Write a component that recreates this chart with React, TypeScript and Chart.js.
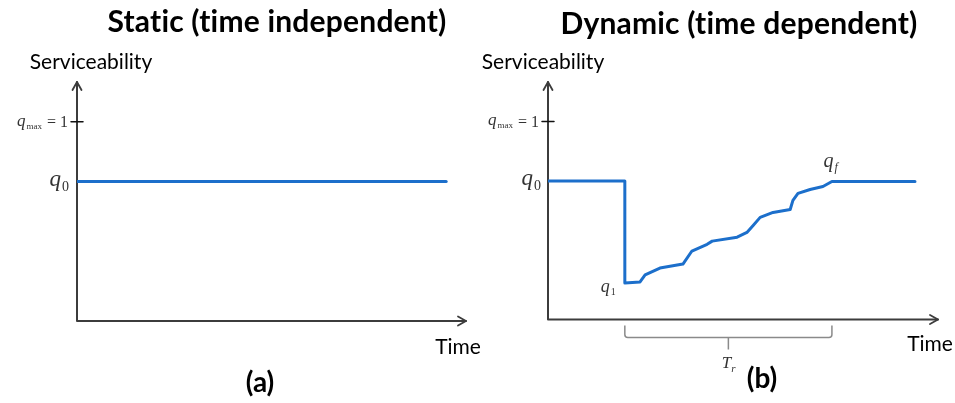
import React, { useEffect, useRef } from "react";
import { Chart, registerables } from "chart.js";

Chart.register(...registerables);

// ---- data ----
const staticTime = [0, 9.49];
const staticServ = [0.7, 0.7];

const dynamicTime = [0, 1.97, 1.97, 2.36, 2.49, 2.87, 3.46, 3.69, 4.08, 4.21, 4.85, 5.1, 5.26, 5.44, 5.77, 6.21, 6.28, 6.41, 6.72, 7.05, 7.28, 9.41];
const dynamicServ = [0.7, 0.7, 0.185, 0.19, 0.225, 0.26, 0.28, 0.346, 0.38, 0.396, 0.416, 0.44, 0.475, 0.516, 0.541, 0.556, 0.602, 0.637, 0.657, 0.672, 0.697, 0.697];

const Q_MAX = 1;
const Q_0 = 0.7;
const X_MAX = 10;
const Y_MAX = 1.2;
const RECOVERY_START = 1.97;
const RECOVERY_END = 7.28;
const Q1_VALUE = 0.185;
const QF_VALUE = 0.697;

const titles = ["Static (time independent)", "Dynamic (time dependent)"];
const panelLabels = ["(a)", "(b)"];
const yAxisLabel = "Serviceability";
const xAxisLabel = "Time";

// ---- styles ----
const LINE_COLOR = "#1c6fcb";
const AXIS_COLOR = "#3c3c3c";
const SANS = "Lato, 'Open Sans', sans-serif";
const SERIF = "'Liberation Serif', 'DejaVu Serif', serif";

type PanelCfg = {
  left: number;
  width: number;
  padding: { left: number; right: number; top: number; bottom: number };
  title: [number, number];
  yLabel: [number, number];
  xLabel: [number, number];
  panel: [number, number];
  qmaxRight: number;
  q0Right: number;
  dynamic: boolean;
};

function drawQ(ctx: CanvasRenderingContext2D, xRight: number, y: number, sub: string, size: number, subSize: number, subItalic = false) {
  ctx.font = `italic ${size}px ${SERIF}`;
  const wq = ctx.measureText("q").width;
  ctx.font = `${subItalic ? "italic " : ""}${subSize}px ${SERIF}`;
  const ws = ctx.measureText(sub).width;
  const x = xRight - wq - ws - 1;
  ctx.textAlign = "left";
  ctx.textBaseline = "alphabetic";
  ctx.font = `italic ${size}px ${SERIF}`;
  ctx.fillText("q", x, y + size * 0.22);
  ctx.font = `${subItalic ? "italic " : ""}${subSize}px ${SERIF}`;
  ctx.fillText(sub, x + wq + 1, y + size * 0.22 + subSize * 0.35);
}

function makePlugin(cfg: PanelCfg, idx: number) {
  return {
    id: "decor" + idx,
    beforeDatasetsDraw(chart: any) {
      const ctx: CanvasRenderingContext2D = chart.ctx;
      const xs = chart.scales.x;
      const ys = chart.scales.y;
      const x0 = xs.getPixelForValue(0);
      const xEnd = xs.getPixelForValue(X_MAX);
      const y0 = ys.getPixelForValue(0);
      const yTop = ys.getPixelForValue(Y_MAX);
      ctx.save();
      ctx.strokeStyle = AXIS_COLOR;
      ctx.lineWidth = 2;
      ctx.lineCap = "round";
      ctx.lineJoin = "round";
      ctx.beginPath();
      ctx.moveTo(x0, y0);
      ctx.lineTo(x0, yTop);
      ctx.moveTo(x0, y0);
      ctx.lineTo(xEnd, y0);
      ctx.stroke();
      ctx.lineWidth = 1.8;
      ctx.beginPath();
      ctx.moveTo(x0 - 4.5, yTop + 8);
      ctx.lineTo(x0, yTop);
      ctx.lineTo(x0 + 4.5, yTop + 8);
      ctx.moveTo(xEnd - 8, y0 - 4.5);
      ctx.lineTo(xEnd, y0);
      ctx.lineTo(xEnd - 8, y0 + 4.5);
      ctx.stroke();
      // q_max tick
      const yq = ys.getPixelForValue(Q_MAX);
      ctx.strokeStyle = "#111";
      ctx.lineWidth = 1.5;
      ctx.beginPath();
      ctx.moveTo(x0 - 6, yq);
      ctx.lineTo(x0 + 6, yq);
      ctx.stroke();
      ctx.restore();
    },
    afterDraw(chart: any) {
      const ctx: any = chart.ctx;
      const xs = chart.scales.x;
      const ys = chart.scales.y;
      const y0 = ys.getPixelForValue(0);
      ctx.save();
      ctx.fillStyle = "#000";
      ctx.textBaseline = "middle";
      ctx.textAlign = "center";
      ctx.font = `bold 30px ${SANS}`;
      ctx.letterSpacing = "0.2px";
      ctx.fillText(titles[idx], cfg.title[0], cfg.title[1]);
      ctx.letterSpacing = "0px";
      ctx.font = `21px ${SANS}`;
      ctx.fillText(yAxisLabel, cfg.yLabel[0], cfg.yLabel[1]);
      ctx.fillText(xAxisLabel, cfg.xLabel[0], cfg.xLabel[1]);
      ctx.font = `bold 28px ${SANS}`;
      ctx.fillText(panelLabels[idx], cfg.panel[0], cfg.panel[1]);

      // q_max = 1
      ctx.fillStyle = "#333";
      const yq = ys.getPixelForValue(Q_MAX);
      ctx.textBaseline = "alphabetic";
      ctx.textAlign = "right";
      ctx.font = `16px ${SERIF}`;
      const eq = "= 1";
      ctx.fillText(eq, cfg.qmaxRight, yq + 5);
      const weq = ctx.measureText(eq).width;
      drawQ(ctx, cfg.qmaxRight - weq - 5, yq, "max", 17, 9);

      // q0
      const yq0 = ys.getPixelForValue(Q_0);
      drawQ(ctx, cfg.q0Right, yq0 - 1, "0", 23, 14);

      if (cfg.dynamic) {
        const xs1 = xs.getPixelForValue(RECOVERY_START);
        const xs2 = xs.getPixelForValue(RECOVERY_END);
        drawQ(ctx, xs1 - 9, ys.getPixelForValue(Q1_VALUE) + 5, "1", 18, 10);
        drawQ(ctx, xs2 + 6, ys.getPixelForValue(QF_VALUE) - 19, "f", 20, 12, true);

        // bracket
        const top = y0 + 6;
        const bot = y0 + 18;
        const mid = (xs1 + xs2) / 2;
        ctx.strokeStyle = "#8a8a8a";
        ctx.lineWidth = 1.5;
        ctx.beginPath();
        ctx.moveTo(xs1, top);
        ctx.lineTo(xs1, bot - 3);
        ctx.quadraticCurveTo(xs1, bot, xs1 + 3, bot);
        ctx.lineTo(xs2 - 3, bot);
        ctx.quadraticCurveTo(xs2, bot, xs2, bot - 3);
        ctx.lineTo(xs2, top);
        ctx.moveTo(mid, bot);
        ctx.lineTo(mid, bot + 12);
        ctx.stroke();
        ctx.fillStyle = "#333";
        ctx.textAlign = "center";
        ctx.textBaseline = "alphabetic";
        ctx.font = `italic 17px ${SERIF}`;
        ctx.fillText("T", mid - 2, bot + 30);
        ctx.font = `italic 11px ${SERIF}`;
        ctx.fillText("r", mid + 5, bot + 34);
      }
      ctx.restore();
    },
  };
}

const panels: PanelCfg[] = [
  {
    left: 0,
    width: 495,
    padding: { left: 77, right: 29, top: 82, bottom: 82 },
    title: [277, 22],
    yLabel: [91, 62],
    xLabel: [458, 347],
    panel: [260, 383],
    qmaxRight: 68,
    q0Right: 69,
    dynamic: false,
  },
  {
    left: 477,
    width: 478,
    padding: { left: 71, right: 17, top: 82, bottom: 83.5 },
    title: [262, 24],
    yLabel: [66, 62],
    xLabel: [453, 344],
    panel: [285, 379],
    qmaxRight: 62,
    q0Right: 64,
    dynamic: true,
  },
];

function Panel({ idx }: { idx: number }) {
  const ref = useRef<HTMLCanvasElement>(null);
  useEffect(() => {
    const cfg = panels[idx];
    const times = idx === 0 ? staticTime : dynamicTime;
    const serv = idx === 0 ? staticServ : dynamicServ;
    const chart = new Chart(ref.current as HTMLCanvasElement, {
      type: "line",
      data: {
        datasets: [
          {
            data: times.map((t, i) => ({ x: t, y: serv[i] })),
            borderColor: LINE_COLOR,
            borderWidth: 3,
            pointRadius: 0,
            tension: 0,
            borderJoinStyle: "round",
            borderCapStyle: "round",
            fill: false,
          },
        ],
      },
      options: {
        animation: false,
        responsive: false,
        maintainAspectRatio: false,
        layout: { padding: cfg.padding },
        plugins: { legend: { display: false }, tooltip: { enabled: false }, title: { display: false } },
        scales: {
          x: { type: "linear", min: 0, max: X_MAX, display: false },
          y: { type: "linear", min: 0, max: Y_MAX, display: false },
        },
      },
      plugins: [makePlugin(cfg, idx)],
    } as any);
    return () => chart.destroy();
  }, [idx]);
  const cfg = panels[idx];
  return (
    <canvas
      ref={ref}
      width={cfg.width}
      height={403}
      style={{ position: "absolute", left: cfg.left, top: 0, width: cfg.width, height: 403, display: "block" }}
    />
  );
}

export default function App() {
  return (
    <div style={{ position: "fixed", left: 0, top: 0, width: 955, height: 403, background: "#fff" }}>
      <Panel idx={0} />
      <Panel idx={1} />
    </div>
  );
}
